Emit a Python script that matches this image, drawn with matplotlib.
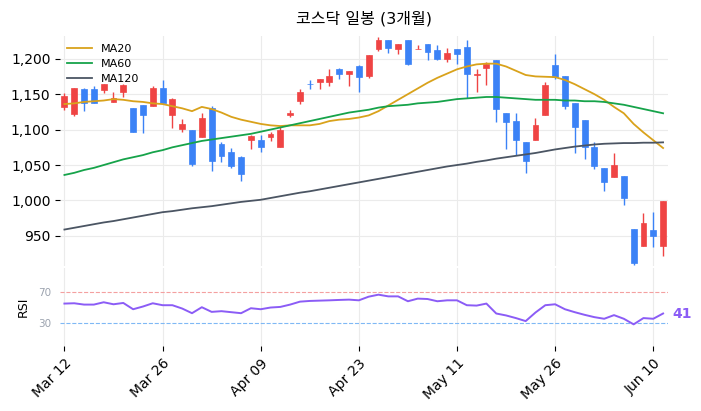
import matplotlib
matplotlib.use("Agg")
import matplotlib.pyplot as plt
from matplotlib.ticker import FuncFormatter
import numpy as np

plt.rcParams['font.family'] = ['DejaVu Sans', 'Noto Sans CJK KR']

title = "코스닥 일봉 (3개월)"
tick_labels = ["Mar 12", "Mar 26", "Apr 09", "Apr 23", "May 11", "May 26", "Jun 10"]
tick_pos = [0, 10, 20, 30, 40, 50, 60]

opens = [1132, 1122, 1157, 1157, 1156, 1139, 1153, 1130, 1135, 1133,
         1159, 1120, 1101, 1100, 1090, 1130, 1080, 1069, 1062, 1085,
         1085, 1089, 1076, 1121, 1141, 1165, 1167, 1167, 1186, 1178,
         1189, 1175, 1214, 1227, 1214, 1226, 1213, 1221, 1212, 1200,
         1213, 1216, 1177, 1187, 1198, 1123, 1112, 1082, 1086, 1120,
         1191, 1175, 1137, 1114, 1075, 1046, 1033, 1035, 960, 936,
         958, 936]
highs = [1151, 1159, 1158, 1161, 1165, 1153, 1165, 1130, 1135, 1161,
         1170, 1144, 1115, 1100, 1123, 1133, 1083, 1074, 1063, 1093,
         1093, 1097, 1104, 1127, 1157, 1170, 1171, 1186, 1187, 1182,
         1191, 1205, 1230, 1227, 1221, 1226, 1220, 1221, 1220, 1215,
         1213, 1226, 1185, 1195, 1198, 1123, 1123, 1082, 1116, 1167,
         1206, 1175, 1137, 1114, 1083, 1046, 1067, 1035, 960, 982,
         984, 999]
lows = [1128, 1119, 1126, 1137, 1151, 1139, 1146, 1096, 1095, 1133,
        1138, 1102, 1096, 1049, 1090, 1041, 1054, 1046, 1027, 1073,
        1069, 1084, 1075, 1118, 1136, 1157, 1157, 1161, 1172, 1161,
        1153, 1173, 1211, 1208, 1207, 1191, 1213, 1198, 1198, 1195,
        1192, 1144, 1153, 1163, 1111, 1072, 1064, 1039, 1086, 1120,
        1171, 1129, 1067, 1058, 1044, 1013, 1033, 994, 909, 936,
        934, 922]
closes = [1148, 1158, 1137, 1137, 1165, 1144, 1163, 1097, 1121, 1159,
          1138, 1143, 1108, 1052, 1117, 1056, 1063, 1048, 1037, 1091,
          1076, 1094, 1100, 1124, 1153, 1164, 1171, 1175, 1178, 1182,
          1174, 1205, 1227, 1215, 1221, 1193, 1214, 1209, 1199, 1208,
          1207, 1179, 1179, 1193, 1129, 1111, 1085, 1056, 1106, 1163,
          1174, 1133, 1104, 1075, 1049, 1026, 1050, 1003, 912, 968,
          950, 999]

ma20 = [1136, 1137, 1139, 1140, 1141, 1143, 1142, 1140, 1139, 1137,
        1136, 1133, 1130, 1126, 1132, 1129, 1124, 1118, 1114, 1111,
        1108, 1106, 1105, 1106, 1106, 1106, 1108, 1112, 1114, 1115,
        1117, 1120, 1126, 1134, 1142, 1150, 1158, 1166, 1173, 1179,
        1185, 1189, 1192, 1193, 1193, 1189, 1183, 1177, 1175, 1174.5,
        1174, 1170, 1164, 1157, 1150, 1142, 1132, 1123, 1108, 1096,
        1085, 1074]
ma60 = [1036, 1039, 1043, 1046, 1050, 1054, 1058, 1061, 1064, 1068,
        1071, 1075, 1078, 1081, 1084, 1086, 1088, 1090, 1092, 1094,
        1097, 1100, 1103, 1106, 1109, 1112, 1115, 1118, 1121, 1124,
        1126, 1128, 1131, 1133, 1134, 1135, 1137, 1138, 1139, 1141,
        1143, 1144, 1145, 1146, 1146, 1145, 1144, 1143, 1142, 1142,
        1142, 1141, 1141, 1140, 1140, 1139, 1137, 1135, 1132, 1129,
        1126, 1123]
ma120 = [959, 961.5, 964, 966.5, 969, 971, 973.5, 976, 978.5, 981,
         983.5, 985, 987, 989, 990.5, 992, 994, 996, 998, 999.5,
         1001, 1003.5, 1006, 1008.5, 1011, 1013, 1015.5, 1018, 1020.5, 1023,
         1025.5, 1028, 1030.5, 1033, 1035.5, 1038, 1040.5, 1043, 1045.5, 1048,
         1050, 1052, 1054.5, 1056.5, 1059, 1061, 1063, 1065, 1067, 1069.5,
         1072, 1074, 1076, 1077.5, 1079, 1080, 1080.5, 1081, 1081, 1081.5,
         1081.5, 1082]
rsi = [54.7, 55.1, 53.4, 53.4, 56.4, 53.8, 55.5, 47.4, 50.9, 55.1,
       52.6, 52.6, 48.3, 42.3, 50.0, 44.0, 44.9, 43.6, 42.3, 48.7,
       47.4, 49.6, 50.4, 53.4, 57.2, 58.1, 58.5, 58.9, 59.4, 59.8,
       58.9, 63.6, 66.2, 64.0, 64.0, 57.7, 61.1, 60.6, 57.7, 58.9,
       58.9, 52.6, 52.1, 54.7, 41.9, 39.4, 36.0, 32.1, 43.2, 52.6,
       53.8, 47.4, 43.6, 40.2, 37.2, 35.1, 39.8, 35.1, 27.9, 36.0,
       35.1, 41.9]

UP = "#ef4444"
DOWN = "#3b82f6"
GRID = "#ebebeb"

fig = plt.figure(figsize=(7.01, 4.11), dpi=100)
ax = fig.add_axes([0.0849, 0.3535, 0.868, 0.5589])
ax2 = fig.add_axes([0.0849, 0.1582, 0.868, 0.1886], sharex=ax)

x = np.arange(len(opens))
o = np.array(opens, float); c = np.array(closes, float)
h = np.array(highs, float); l = np.array(lows, float)
colors = [UP if cc >= oo else DOWN for oo, cc in zip(o, c)]
ax.vlines(x, l, h, colors=colors, linewidth=1.0, zorder=2)
body_bottom = np.minimum(o, c)
body_h = np.maximum(np.abs(c - o), 0.8)
ax.bar(x, body_h, bottom=body_bottom, width=0.6, color=colors,
       edgecolor=colors, linewidth=0.5, zorder=3)

ax.plot(x, ma20, color="#d9a21b", linewidth=1.3, label="MA20", zorder=4)
ax.plot(x, ma60, color="#16a34a", linewidth=1.3, label="MA60", zorder=4)
ax.plot(x, ma120, color="#4b5563", linewidth=1.3, label="MA120", zorder=4)

ax.set_xlim(-0.5, 61.5)
ax.set_ylim(908, 1232)
ax.set_yticks([950, 1000, 1050, 1100, 1150, 1200])
ax.yaxis.set_major_formatter(FuncFormatter(lambda v, p: f"{int(v):,}"))
ax.tick_params(axis='y', labelsize=10, length=3.5, width=0.8, pad=3)
ax.tick_params(axis='x', which='both', bottom=False, labelbottom=False)
ax.set_xticks(tick_pos)
ax.grid(True, color=GRID, linewidth=0.8, zorder=0)
ax.set_axisbelow(True)
for s in ax.spines.values():
    s.set_visible(False)
ax.set_title(title, fontsize=11.5, pad=9)
leg = ax.legend(loc="upper left", fontsize=8, frameon=False,
                handlelength=2.2, borderaxespad=0.3, labelspacing=0.45)

ax2.plot(x, rsi, color="#8b5cf6", linewidth=1.4, zorder=3)
ax2.axhline(70, color="#f4a0a0", linestyle="--", linewidth=0.8, zorder=2)
ax2.axhline(30, color="#7fb8f5", linestyle="--", linewidth=0.8, zorder=2)
ax2.set_ylim(0, 100)
ax2.set_yticks([30, 70])
ax2.tick_params(axis='y', labelsize=7.5, labelcolor="#9ca3af", length=0, pad=6)
ax2.set_xticks(tick_pos)
ax2.set_xticklabels(tick_labels, rotation=45, ha="right", rotation_mode="anchor", fontsize=10)
ax2.tick_params(axis='x', length=3.5, width=0.8, pad=4)
ax2.grid(True, axis='x', color=GRID, linewidth=0.8, zorder=0)
ax2.set_axisbelow(True)
ax2.set_ylabel("RSI", fontsize=9, labelpad=6)
for s in ax2.spines.values():
    s.set_visible(False)
ax2.annotate(f"{int(rsi[-1])}", xy=(x[-1], rsi[-1]), xycoords="data",
             xytext=(7, 0), textcoords="offset points", va="center", ha="left",
             fontsize=10, fontweight="bold", color="#8b5cf6", annotation_clip=False)

fig.savefig("out.png", dpi=100)
